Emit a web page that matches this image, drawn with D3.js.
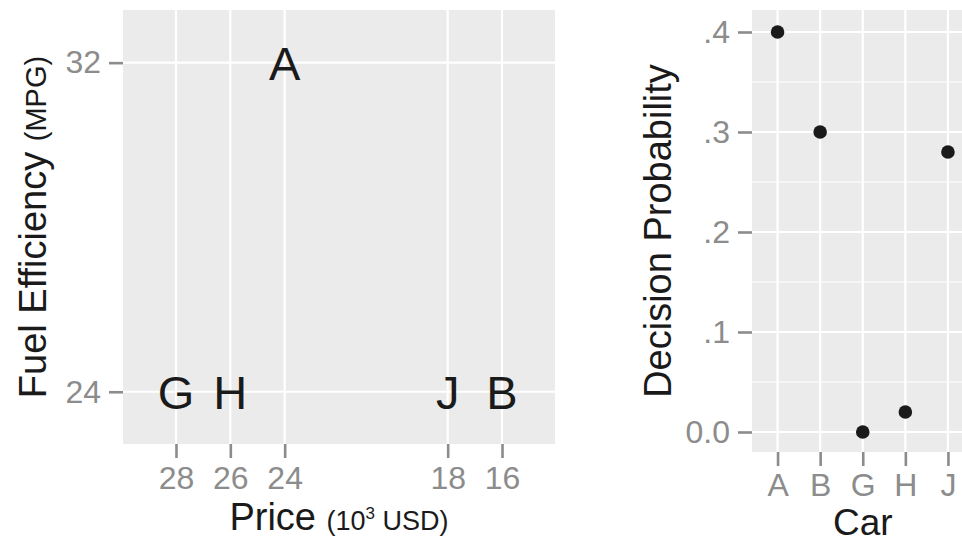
<!DOCTYPE html>
<html>
<head>
<meta charset="utf-8">
<script src="https://cdn.jsdelivr.net/npm/d3@7"></script>
<style>
  html, body { margin: 0; padding: 0; background: #ffffff; }
  svg { display: block; }
  text { font-family: "Liberation Sans", Arial, Helvetica, sans-serif; }
</style>
</head>
<body>
<svg id="chart" width="962" height="541"></svg>
<script>
// ---- Data ----
const cars = ["A", "B", "G", "H", "J"];
const carPrice = [24, 16, 28, 26, 18];          // 10^3 USD
const carMPG = [32, 24, 24, 24, 24];            // MPG
const decisionProb = [0.40, 0.30, 0.00, 0.02, 0.28];
const priceTicks = [28, 26, 24, 18, 16];
const mpgTicks = [24, 32];
const probTicks = [0, 0.1, 0.2, 0.3, 0.4];
const probMinorTicks = [0.05, 0.15, 0.25, 0.35];
const probTickLabels = ["0.0", ".1", ".2", ".3", ".4"];

// ---- Styles ----
const panelBg = "#ebebeb";
const gridCol = "#ffffff";
const tickCol = "#8c8c8c";
const tickLabCol = "#8c8c8c";
const inkCol = "#1a1a1a";
const tickLen = 14;
const tickFont = 32;
const titleFont = 38;
const subFont = 27;

const svg = d3.select("#chart");

// ================= Left panel =================
const L = { x0: 123, x1: 555, y0: 10, y1: 444 };
const xL = d3.scaleLinear().domain([29.95, 14.05]).range([L.x0, L.x1]);
const yL = d3.scaleLinear().domain([22.73, 33.28]).range([L.y1, L.y0]);

const gL = svg.append("g");
gL.append("rect").attr("x", L.x0).attr("y", L.y0)
  .attr("width", L.x1 - L.x0).attr("height", L.y1 - L.y0).attr("fill", panelBg);

gL.selectAll(".vgrid").data(priceTicks).join("line")
  .attr("x1", d => xL(d)).attr("x2", d => xL(d))
  .attr("y1", L.y0).attr("y2", L.y1)
  .attr("stroke", gridCol).attr("stroke-width", 2.2);
gL.selectAll(".hgrid").data(mpgTicks).join("line")
  .attr("y1", d => yL(d)).attr("y2", d => yL(d))
  .attr("x1", L.x0).attr("x2", L.x1)
  .attr("stroke", gridCol).attr("stroke-width", 2.2);

const xAxisL = d3.axisBottom(xL).tickValues(priceTicks).tickSize(tickLen).tickPadding(8).tickFormat(d3.format("d"));
const yAxisL = d3.axisLeft(yL).tickValues(mpgTicks).tickSize(tickLen).tickPadding(8).tickFormat(d3.format("d"));

function styleAxis(g) {
  g.select(".domain").remove();
  g.selectAll(".tick line").attr("stroke", tickCol).attr("stroke-width", 2.6);
  g.selectAll(".tick text").attr("fill", tickLabCol)
    .style("font-size", tickFont + "px")
    .style("font-family", "'Liberation Sans', Arial, sans-serif");
}
gL.append("g").attr("transform", `translate(0,${L.y1})`).call(xAxisL).call(styleAxis);
gL.append("g").attr("transform", `translate(${L.x0},0)`).call(yAxisL).call(styleAxis);

const carRows = cars.map((c, i) => ({ car: c, price: carPrice[i], mpg: carMPG[i], p: decisionProb[i] }));
gL.selectAll(".lbl").data(carRows).join("text")
  .attr("x", d => xL(d.price)).attr("y", d => yL(d.mpg))
  .attr("dy", "0.36em")
  .attr("text-anchor", "middle")
  .attr("fill", inkCol)
  .style("font-size", "47px")
  .text(d => d.car);

const xt = gL.append("text")
  .attr("x", (L.x0 + L.x1) / 2).attr("y", 530)
  .attr("text-anchor", "middle").attr("fill", inkCol)
  .style("font-size", titleFont + "px");
xt.append("tspan").text("Price ");
xt.append("tspan").style("font-size", subFont + "px").text("(10");
xt.append("tspan").style("font-size", "17px").attr("dy", -11).text("3");
xt.append("tspan").style("font-size", subFont + "px").attr("dy", 11).text(" USD)");

const yt = gL.append("text")
  .attr("transform", `translate(46,${(L.y0 + L.y1) / 2}) rotate(-90)`)
  .attr("text-anchor", "middle").attr("fill", inkCol)
  .style("font-size", titleFont + "px");
yt.append("tspan").text("Fuel Efficiency ");
yt.append("tspan").style("font-size", "29px").text("(MPG)");

// ================= Right panel =================
const R = { x0: 752, x1: 973.5, y0: 10, y1: 452 };
const xR = d3.scalePoint().domain(cars).range([R.x0, R.x1]).padding(0.6);
const yR = d3.scaleLinear().domain([-0.02, 0.422]).range([R.y1, R.y0]);

const gR = svg.append("g");
gR.append("rect").attr("x", R.x0).attr("y", R.y0)
  .attr("width", R.x1 - R.x0).attr("height", R.y1 - R.y0).attr("fill", panelBg);

gR.selectAll(".minor").data(probMinorTicks).join("line")
  .attr("y1", d => yR(d)).attr("y2", d => yR(d))
  .attr("x1", R.x0).attr("x2", R.x1)
  .attr("stroke", gridCol).attr("stroke-width", 1.1);
gR.selectAll(".hmaj").data(probTicks).join("line")
  .attr("y1", d => yR(d)).attr("y2", d => yR(d))
  .attr("x1", R.x0).attr("x2", R.x1)
  .attr("stroke", gridCol).attr("stroke-width", 2.2);
gR.selectAll(".vmaj").data(cars).join("line")
  .attr("x1", d => xR(d)).attr("x2", d => xR(d))
  .attr("y1", R.y0).attr("y2", R.y1)
  .attr("stroke", gridCol).attr("stroke-width", 2.2);

const xAxisR = d3.axisBottom(xR).tickSize(tickLen).tickPadding(7);
const yAxisR = d3.axisLeft(yR).tickValues(probTicks).tickSize(tickLen).tickPadding(8)
  .tickFormat((d, i) => probTickLabels[i]);
gR.append("g").attr("transform", `translate(0,${R.y1})`).call(xAxisR).call(styleAxis);
gR.append("g").attr("transform", `translate(${R.x0},0)`).call(yAxisR).call(styleAxis);

gR.selectAll(".dot").data(carRows).join("circle")
  .attr("cx", d => xR(d.car)).attr("cy", d => yR(d.p))
  .attr("r", 6.8).attr("fill", inkCol);

gR.append("text")
  .attr("x", (R.x0 + R.x1) / 2).attr("y", 535)
  .attr("text-anchor", "middle").attr("fill", inkCol)
  .style("font-size", "37px").text("Car");

gR.append("text")
  .attr("transform", `translate(671,${(R.y0 + R.y1) / 2}) rotate(-90)`)
  .attr("text-anchor", "middle").attr("fill", inkCol)
  .style("font-size", titleFont + "px").text("Decision Probability");
</script>
</body>
</html>
